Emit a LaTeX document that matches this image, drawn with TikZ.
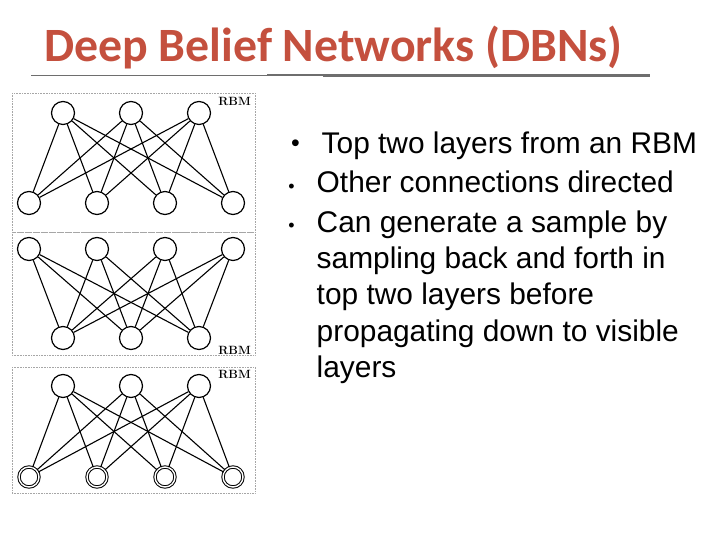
\documentclass[tikz,border=0pt]{standalone}
\usepackage{fontspec}
\newfontfamily\arialfont{Liberation Sans}
\newfontfamily\titlefont{Carlito}
\definecolor{titlered}{RGB}{196,80,62}
\definecolor{rulegray}{RGB}{110,110,110}
\begin{document}
\begin{tikzpicture}[x=1bp,y=-1bp,
  unit/.style={circle,draw,line width=1.2bp,minimum size=23bp,inner sep=0pt},
  vis/.style={circle,draw,line width=1bp,double,double distance=1.4bp,minimum size=20bp,inner sep=0pt},
  edge/.style={line width=1.1bp},
  panel/.style={draw=black!35,densely dotted,line width=0.6bp},
  rbm/.style={font=\fontsize{12}{14}\selectfont\bfseries,inner sep=0pt},
  btext/.style={font=\arialfont\fontsize{30}{36.4}\selectfont,inner sep=0pt,align=left},
  bdot/.style={font=\arialfont\fontsize{18}{18}\selectfont,inner sep=0pt}
]
\useasboundingbox (0,0) rectangle (720,540);

% title
\node[anchor=base west,inner sep=0pt,text=titlered,font=\titlefont\bfseries\fontsize{48}{52}\selectfont] (title) at (44,62) {Deep Belief Networks (DBNs)};
\draw[rulegray,line width=1.4bp] (31,75.5) -- (267,75.5);
\draw[rulegray,line width=2bp] (267,75.5) -- (323,75.5);
\draw[rulegray,line width=3bp] (323,75.5) -- (650,75.5);

% panels
\draw[panel] (12,93) rectangle (255,232);
\draw[panel] (12,232) rectangle (255,355);
\draw[panel] (12,367) rectangle (255,493);

% panel 1: RBM (3 top, 4 bottom)
\foreach \n/\x in {a/63,b/131,c/199} \node[unit] (p1t\n) at (\x,113) {};
\foreach \n/\x in {1/29,2/97,3/165,4/233} \node[unit] (p1b\n) at (\x,203) {};
\foreach \t in {a,b,c} \foreach \b in {1,2,3,4} \draw[edge] (p1t\t) -- (p1b\b);
\node[rbm,anchor=base east] (l1) at (251,106) {RBM};

% panel 2 (4 top, 3 bottom)
\foreach \n/\x in {1/29,2/97,3/165,4/233} \node[unit] (p2t\n) at (\x,249) {};
\foreach \n/\x in {a/63,b/131,c/199} \node[unit] (p2b\n) at (\x,338) {};
\foreach \t in {1,2,3,4} \foreach \b in {a,b,c} \draw[edge] (p2t\t) -- (p2b\b);
\node[rbm,anchor=base east] (l2) at (251,354) {RBM};

% panel 3 (3 top, 4 visible bottom)
\foreach \n/\x in {a/63,b/131,c/199} \node[unit] (p3t\n) at (\x,386) {};
\foreach \n/\x in {1/29,2/97,3/165,4/233} \node[vis] (p3b\n) at (\x,477) {};
\foreach \t in {a,b,c} \foreach \b in {1,2,3,4} \draw[edge] (p3t\t) -- (p3b\b);
\node[rbm,anchor=base east] (l3) at (251,378) {RBM};

% bullets
\node[bdot,font=\arialfont\fontsize{25}{25}\selectfont,anchor=center] (d1) at (295.5,146) {•};
\node[bdot,anchor=center] (d2) at (291.5,188) {•};
\node[bdot,anchor=center] (d3) at (291.5,227) {•};
\node[btext,anchor=base west] (t1) at (321.5,153.5) {Top two layers from an RBM};
\node[btext,anchor=base west] (t2) at (316.5,193) {Other connections directed};
\node[btext,anchor=north west] (t3) at (316.5,210.5) {Can generate a sample by\\sampling back and forth in\\top two layers before\\propagating down to visible\\layers};
\end{tikzpicture}
\end{document}
